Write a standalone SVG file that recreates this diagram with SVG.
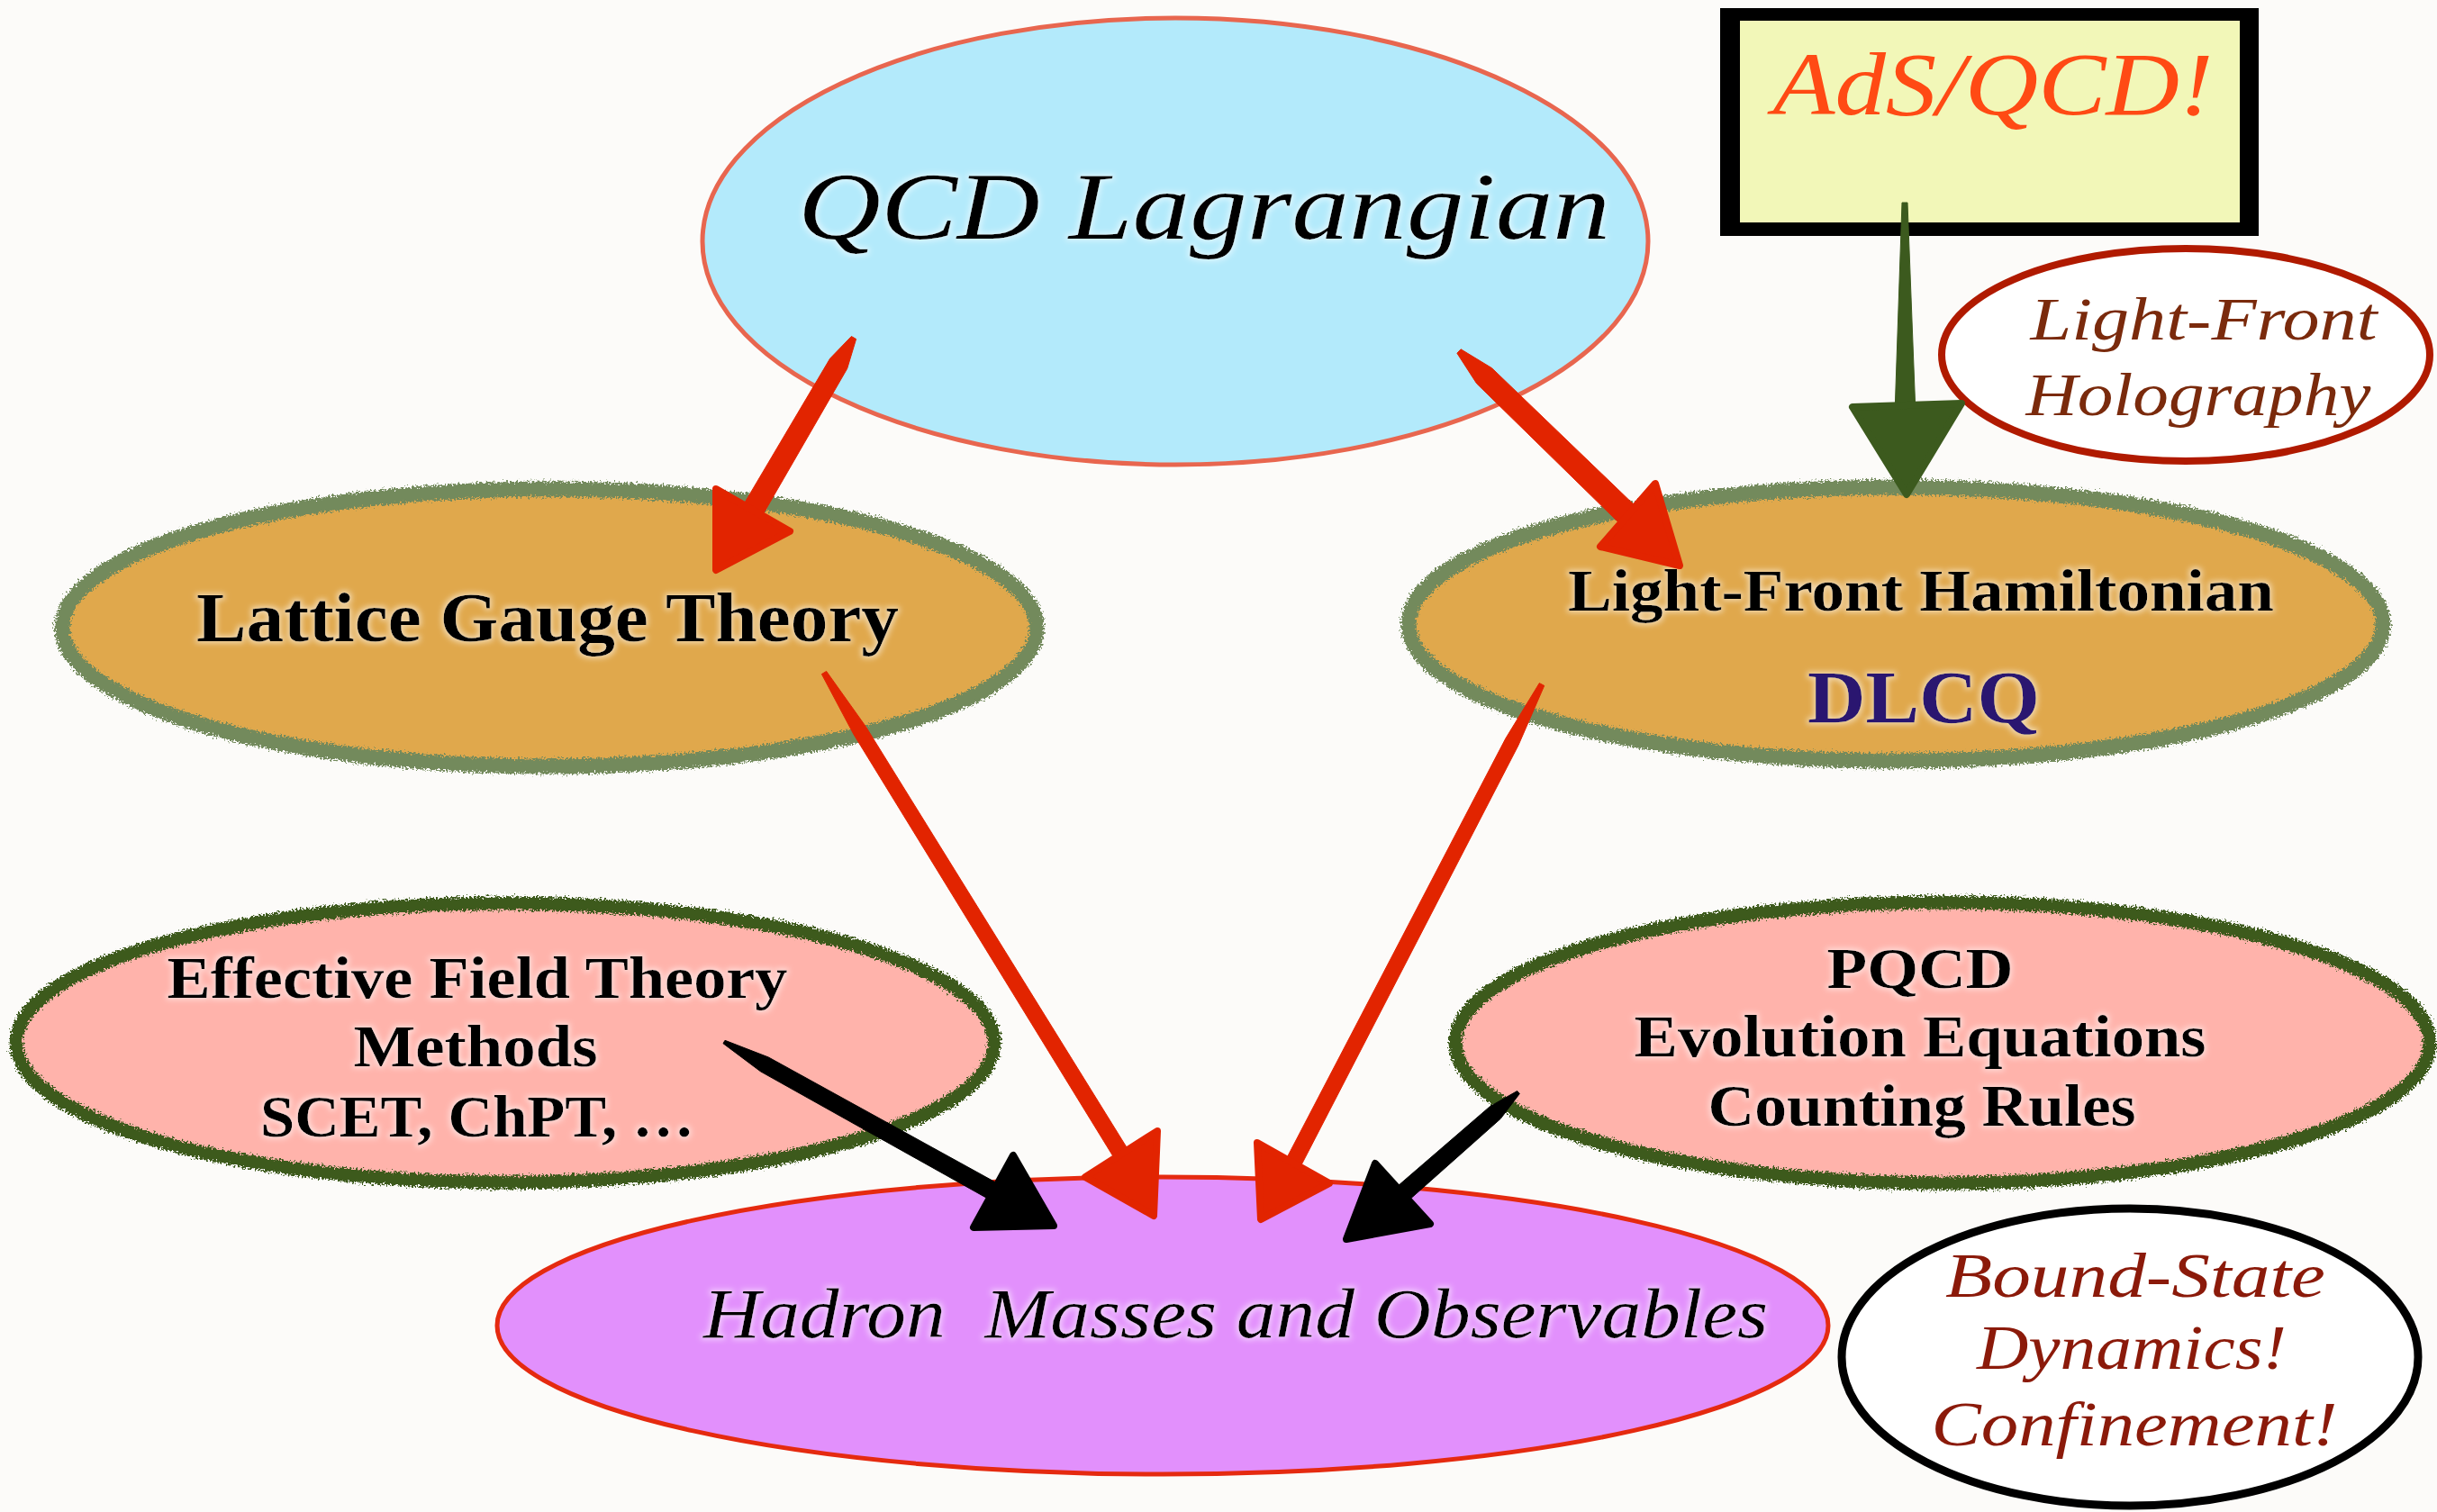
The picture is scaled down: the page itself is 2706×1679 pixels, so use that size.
<svg xmlns="http://www.w3.org/2000/svg" width="2706" height="1679" viewBox="0 0 2706 1679">
  <style>
    .script { font-family: "Liberation Serif", "DejaVu Serif", serif; font-style: italic; }
    .bold { font-family: "Liberation Serif", "DejaVu Serif", serif; font-weight: bold; }
    .red { fill: #E22400; stroke: #E22400; stroke-linejoin: round; }
    .blk { fill: #000; stroke: #000; stroke-linejoin: round; }
    .grn { fill: #3C5A1E; stroke: #3C5A1E; stroke-linejoin: round; }
    .head { stroke-width: 8; }
    .shaft { stroke-width: 1; }
  </style>
  <defs>
    <!-- ragged brush edge for the chalky ellipse outlines -->
    <filter id="rough" x="-5%" y="-10%" width="110%" height="120%">
      <feTurbulence type="fractalNoise" baseFrequency="0.45" numOctaves="2" seed="7" result="n"/>
      <feDisplacementMap in="SourceGraphic" in2="n" scale="11" xChannelSelector="R" yChannelSelector="G"/>
    </filter>
    <!-- soft light halo behind labels -->
    <filter id="glow" x="-5%" y="-20%" width="110%" height="140%">
      <feMorphology in="SourceAlpha" operator="dilate" radius="2" result="d"/>
      <feGaussianBlur in="d" stdDeviation="3" result="b"/>
      <feFlood flood-color="#ffffff" flood-opacity="0.55"/>
      <feComposite in2="b" operator="in" result="h"/>
      <feMerge><feMergeNode in="h"/><feMergeNode in="SourceGraphic"/></feMerge>
    </filter>
  </defs>

  <rect width="2706" height="1679" fill="#FCFBF9"/>

  <!-- top: QCD Lagrangian -->
  <g id="qcd-lagrangian">
    <ellipse cx="1305" cy="268" rx="525" ry="248" fill="#B3EAFB" stroke="#E8664F" stroke-width="5"/>
    <text class="script" x="1337" y="265" font-size="105" text-anchor="middle" textLength="902" lengthAdjust="spacingAndGlyphs" fill="#000" filter="url(#glow)">QCD Lagrangian</text>
  </g>

  <!-- AdS/QCD sign -->
  <g id="ads-qcd">
    <rect x="1910" y="9" width="598" height="253" fill="#000"/>
    <rect x="1932" y="23" width="555" height="224" fill="#F2F7B8"/>
    <text class="script" x="2213" y="127" font-size="100" text-anchor="middle" textLength="489" lengthAdjust="spacingAndGlyphs" fill="#FF4A14">AdS/QCD!</text>
  </g>

  <!-- Light-Front Holography bubble -->
  <g id="lf-holography">
    <ellipse cx="2427" cy="394" rx="271" ry="118" fill="#FFFFFF" stroke="#B01A00" stroke-width="8"/>
    <text class="script" x="2447" y="377" font-size="68" text-anchor="middle" textLength="385" lengthAdjust="spacingAndGlyphs" fill="#7A2A0C">Light-Front</text>
    <text class="script" x="2441" y="461" font-size="68" text-anchor="middle" textLength="383" lengthAdjust="spacingAndGlyphs" fill="#7A2A0C">Holography</text>
  </g>

  <!-- Lattice Gauge Theory -->
  <g id="lattice">
    <ellipse cx="610" cy="697" rx="541" ry="154" fill="#E0A84C"/>
    <ellipse cx="610" cy="697" rx="541" ry="154" fill="none" stroke="#738A5C" stroke-width="17" filter="url(#rough)"/>
    <text class="bold" x="608" y="712" font-size="78" text-anchor="middle" textLength="780" lengthAdjust="spacingAndGlyphs" fill="#000" filter="url(#glow)">Lattice Gauge Theory</text>
  </g>

  <!-- Light-Front Hamiltonian / DLCQ -->
  <g id="lf-hamiltonian">
    <ellipse cx="2105" cy="693" rx="541" ry="152" fill="#E0A84C"/>
    <ellipse cx="2105" cy="693" rx="541" ry="152" fill="none" stroke="#738A5C" stroke-width="17" filter="url(#rough)"/>
    <text class="bold" x="2133" y="678" font-size="66" text-anchor="middle" textLength="784" lengthAdjust="spacingAndGlyphs" fill="#000" filter="url(#glow)">Light-Front Hamiltonian</text>
    <text class="bold" x="2136" y="802" font-size="83" text-anchor="middle" textLength="258" lengthAdjust="spacingAndGlyphs" fill="#2A1470" filter="url(#glow)">DLCQ</text>
  </g>

  <!-- Effective Field Theory -->
  <g id="eft">
    <ellipse cx="561" cy="1158" rx="543" ry="155" fill="#FFB3AB"/>
    <ellipse cx="561" cy="1158" rx="543" ry="155" fill="none" stroke="#3E5A1F" stroke-width="15" filter="url(#rough)"/>
    <text class="bold" x="530" y="1108" font-size="66" text-anchor="middle" textLength="689" lengthAdjust="spacingAndGlyphs" fill="#000" filter="url(#glow)">Effective Field Theory</text>
    <text class="bold" x="528" y="1184" font-size="66" text-anchor="middle" textLength="271" lengthAdjust="spacingAndGlyphs" fill="#000" filter="url(#glow)">Methods</text>
    <text class="bold" x="530" y="1262" font-size="66" text-anchor="middle" textLength="482" lengthAdjust="spacingAndGlyphs" fill="#000" filter="url(#glow)">SCET, ChPT, …</text>
  </g>

  <!-- PQCD -->
  <g id="pqcd">
    <ellipse cx="2157" cy="1158" rx="541" ry="156" fill="#FFB3AB"/>
    <ellipse cx="2157" cy="1158" rx="541" ry="156" fill="none" stroke="#3E5A1F" stroke-width="15" filter="url(#rough)"/>
    <text class="bold" x="2132" y="1097" font-size="64" text-anchor="middle" textLength="207" lengthAdjust="spacingAndGlyphs" fill="#000" filter="url(#glow)">PQCD</text>
    <text class="bold" x="2132" y="1173" font-size="66" text-anchor="middle" textLength="635" lengthAdjust="spacingAndGlyphs" fill="#000" filter="url(#glow)">Evolution Equations</text>
    <text class="bold" x="2134" y="1250" font-size="66" text-anchor="middle" textLength="475" lengthAdjust="spacingAndGlyphs" fill="#000" filter="url(#glow)">Counting Rules</text>
  </g>

  <!-- Hadron Masses and Observables -->
  <g id="hadron">
    <ellipse cx="1291" cy="1472" rx="739" ry="165" fill="#E290FC" stroke="#E52A10" stroke-width="5"/>
    <text class="script" x="1372" y="1485" font-size="78" text-anchor="middle" textLength="1182" lengthAdjust="spacingAndGlyphs" fill="#000" xml:space="preserve" filter="url(#glow)">Hadron  Masses and Observables</text>
  </g>

  <!-- Bound-State Dynamics bubble -->
  <g id="bound-state">
    <ellipse cx="2365" cy="1507" rx="320" ry="165" fill="#FFFFFF" stroke="#000" stroke-width="9"/>
    <text class="script" x="2371" y="1440" font-size="70" text-anchor="middle" textLength="422" lengthAdjust="spacingAndGlyphs" fill="#8B1A0A">Bound-State</text>
    <text class="script" x="2367" y="1520" font-size="70" text-anchor="middle" textLength="344" lengthAdjust="spacingAndGlyphs" fill="#8B1A0A">Dynamics!</text>
    <text class="script" x="2370" y="1605" font-size="70" text-anchor="middle" textLength="451" lengthAdjust="spacingAndGlyphs" fill="#8B1A0A">Confinement!</text>
  </g>

  <!-- connectors: tapered brush shafts with rounded triangular heads -->
  <g id="connectors">
    <!-- QCD Lagrangian -> Lattice Gauge Theory -->
    <polygon class="red shaft" points="950.6,376.5 940.7,409.3 846.4,572.6 825.6,560.4 921.7,398.1 945.4,373.5"/>
    <polygon class="red head" points="795,543 877,590 795,633"/>
    <!-- QCD Lagrangian -> Light-Front Hamiltonian -->
    <polygon class="red shaft" points="1617.9,392.2 1639.7,425.9 1798.4,581.3 1816.6,562.7 1656.5,408.7 1622.1,387.8"/>
    <polygon class="red head" points="1838,537 1777,607 1865,628"/>
    <!-- Lattice Gauge Theory -> Hadron -->
    <polygon class="red shaft" points="912.4,748.6 947.8,815.3 1237.3,1286.2 1252.7,1276.8 961.4,806.9 917.6,745.4"/>
    <polygon class="red head" points="1285,1256 1205,1307 1281,1350"/>
    <!-- Light-Front Hamiltonian -> Hadron -->
    <polygon class="red shaft" points="1714.7,761.4 1686,827.5 1444,1295.6 1428,1287.4 1671.8,820.1 1709.3,758.6"/>
    <polygon class="red head" points="1396,1269 1476,1314 1400,1354"/>
    <!-- Effective Field Theory -> Hadron -->
    <polygon class="blk shaft" points="803,1158.7 844.5,1189.8 1098.1,1331.7 1107.9,1314.3 853.3,1174 805,1155.3"/>
    <polygon class="blk head" points="1125,1283 1081,1363 1170,1361"/>
    <!-- PQCD -> Hadron -->
    <polygon class="blk shaft" points="1687.3,1214.5 1666.2,1242.3 1564.1,1333 1550.9,1318 1654.4,1228.7 1684.7,1211.5"/>
    <polygon class="blk head" points="1527,1292 1588,1359 1495,1376"/>
    <!-- AdS/QCD -> Light-Front Hamiltonian -->
    <polygon class="grn shaft" points="2112,225 2118,225 2127,460 2104,460"/>
    <polygon class="grn head" points="2057,452 2178,448 2117,549"/>
  </g>
</svg>
